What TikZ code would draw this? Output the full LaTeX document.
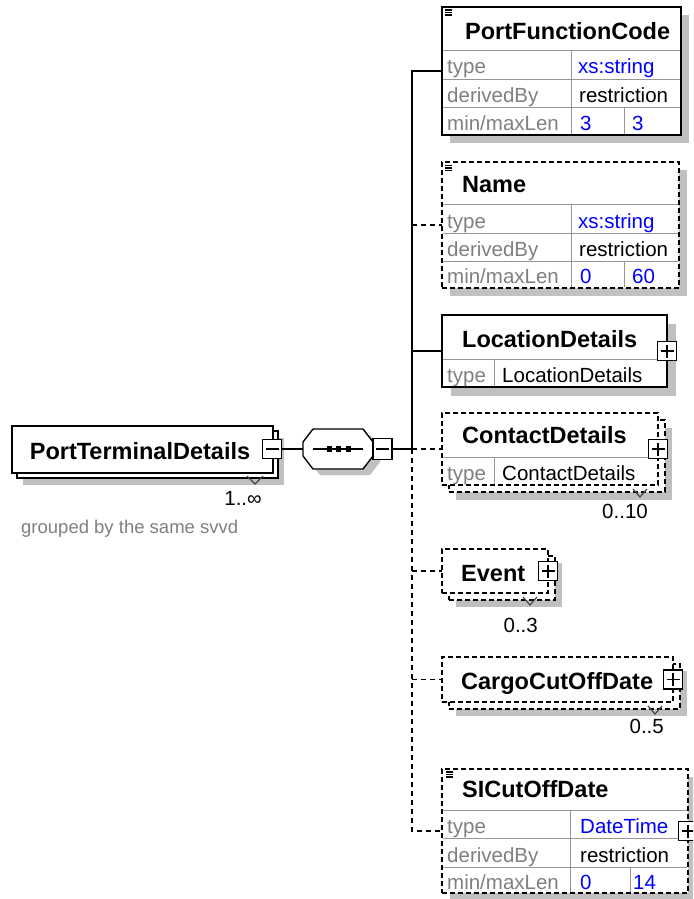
\documentclass[tikz,border=0pt]{standalone}
\usepackage{fontspec}
\setmainfont{Liberation Sans}
\usetikzlibrary{calc}
\definecolor{gtxt}{RGB}{128,128,128}
\definecolor{gline}{RGB}{150,150,150}
\definecolor{shad}{RGB}{192,192,192}
\definecolor{btxt}{RGB}{0,0,255}
\definecolor{notch}{RGB}{70,70,70}
\begin{document}
\begin{tikzpicture}[x=1pt,y=-1pt,
  ebox/.style={draw=black, line width=1.4pt, fill=white, inner sep=0, outer sep=0, anchor=north west},
  obox/.style={ebox, dash pattern=on 5pt off 3pt},
  sbox/.style={fill=shad, draw=none, inner sep=0, outer sep=0, anchor=north west},
  gridline/.style={draw=gline, line width=1pt},
  conn/.style={line width=1.4pt},
  oconn/.style={conn, dash pattern=on 5pt off 4pt},
  tbox/.style={draw=black, line width=1.2pt, fill=white, minimum width=19pt, minimum height=19pt, inner sep=0, outer sep=0},
  plusbox/.style={tbox, path picture={\draw[line width=1.3pt] ([xshift=-6.5pt]path picture bounding box.center) -- ([xshift=6.5pt]path picture bounding box.center) ([yshift=-6.5pt]path picture bounding box.center) -- ([yshift=6.5pt]path picture bounding box.center);}},
  minusbox/.style={tbox, path picture={\draw[line width=1.3pt] ([xshift=-6.5pt]path picture bounding box.center) -- ([xshift=6.5pt]path picture bounding box.center);}},
  ttl/.style={font=\fontsize{23.5}{26}\selectfont\bfseries, anchor=base west, inner sep=0},
  txt/.style={font=\fontsize{20.5}{24}\selectfont, anchor=base west, inner sep=0},
  gt/.style={txt, text=gtxt},
  bt/.style={txt, text=btxt},
  card/.style={txt, anchor=base east},
  notchline/.style={draw=notch, line width=1.2pt},
  iconline/.style={line width=1.2pt}
]
\useasboundingbox (0,0) rectangle (693,899);
\clip (0,0) rectangle (693,899);
\fill[white] (0,0) rectangle (693,899);

% ---------- PortTerminalDetails ----------
\node[sbox, minimum width=261pt, minimum height=47pt] (ptdS) at (23,438) {};
\node[ebox, minimum width=261pt, minimum height=47pt] (ptdB) at (17,431) {};
\node[ebox, minimum width=261pt, minimum height=47pt] (ptd) at (12,426) {};
\node[ttl, anchor=base] (ptdN) at (140,459) {PortTerminalDetails};
\node[minusbox] (ptdT) at (272,449) {};
\draw[notchline] (247,476) -- (255,484) -- (263,476);
\node[card] (ptdC) at (262,505) {1..∞};
\node[gt, font=\fontsize{18.5}{22}\selectfont] (ptdA) at (21,533) {grouped by the same svvd};

% ---------- sequence compositor ----------
\fill[shad, shift={(7,6)}] (303,442) -- (313,429) -- (363,429) -- (373,442) -- (373,456) -- (363,469) -- (313,469) -- (303,456) -- cycle;
\draw[line width=1.4pt, fill=white] (303,442) -- (313,429) -- (363,429) -- (373,442) -- (373,456) -- (363,469) -- (313,469) -- (303,456) -- cycle;
\node[inner sep=0, outer sep=0, minimum width=70pt, minimum height=40pt] (seq) at (338,449) {};
\draw[line width=1.3pt] (313,449) -- (363,449);
\fill (326.8,446.2) rectangle +(5.6,5.6);
\fill (335.8,446.2) rectangle +(5.6,5.6);
\fill (345.8,446.2) rectangle +(5.6,5.6);
\node[minusbox, minimum height=21pt] (seqT) at (382.5,449) {};

% ---------- PortFunctionCode ----------
\node[sbox, minimum width=239pt, minimum height=128pt] (pfcS) at (450,15) {};
\node[ebox, minimum width=239pt, minimum height=128pt] (pfc) at (442,7) {};
\draw[gridline] (442.7,51) -- (680.3,51) (442.7,79) -- (680.3,79) (442.7,107) -- (680.3,107)
  (571,51) -- (571,134.3) (624,107) -- (624,134.3);
\draw[iconline] (444.5,10) -- (451.5,10) (444.5,12.5) -- (451.5,12.5) (444.5,15) -- (451.5,15);
\node[ttl] (pfcN) at (465,40) {PortFunctionCode};
\node[gt] (pfc1) at (447,74) {type};
\node[bt] (pfc2) at (578,74) {xs:string};
\node[gt] (pfc3) at (447,102) {derivedBy};
\node[txt] (pfc4) at (579,102) {restriction};
\node[gt] (pfc5) at (447,130) {min/maxLen};
\node[bt] (pfc6) at (580,130) {3};
\node[bt] (pfc7) at (632,130) {3};

% ---------- Name ----------
\node[sbox, minimum width=237pt, minimum height=126pt] (namS) at (450,170) {};
\node[obox, minimum width=237pt, minimum height=126pt] (nam) at (442,162) {};
\draw[gridline] (442.7,204) -- (678.3,204) (442.7,233) -- (678.3,233) (442.7,261) -- (678.3,261)
  (571,204) -- (571,287.3) (624,261) -- (624,287.3);
\draw[iconline] (445,165.5) -- (452,165.5) (445,168) -- (452,168) (445,170.5) -- (452,170.5);
\node[ttl] (namN) at (462,192) {Name};
\node[gt] (nam1) at (447,228) {type};
\node[bt] (nam2) at (578,228) {xs:string};
\node[gt] (nam3) at (447,256) {derivedBy};
\node[txt] (nam4) at (579,256) {restriction};
\node[gt] (nam5) at (447,283) {min/maxLen};
\node[bt] (nam6) at (580,283) {0};
\node[bt] (nam7) at (632,283) {60};

% ---------- LocationDetails ----------
\node[sbox, minimum width=225pt, minimum height=72pt] (locS) at (451,324) {};
\node[ebox, minimum width=225pt, minimum height=72pt] (loc) at (442,315) {};
\draw[gridline] (442.7,359) -- (666.3,359) (494,359) -- (494,386.3);
\node[ttl] (locN) at (462,347) {LocationDetails};
\node[gt] (loc1) at (447,382) {type};
\node[txt] (loc2) at (502,382) {LocationDetails};
\node[plusbox] (locT) at (667,351) {};

% ---------- ContactDetails ----------
\node[sbox, minimum width=216pt, minimum height=72pt] (conS) at (456,428) {};
\node[obox, minimum width=216pt, minimum height=72pt] (conB) at (449,420) {};
\node[obox, minimum width=216pt, minimum height=72pt] (con) at (442,413) {};
\draw[gridline] (442.7,457) -- (657.3,457) (494,457) -- (494,484.3);
\node[ttl] (conN) at (462,443) {ContactDetails};
\node[gt] (con1) at (447,480) {type};
\node[txt] (con2) at (502,480) {ContactDetails};
\node[plusbox] (conT) at (658,449) {};
\draw[notchline] (633,489) -- (640,497) -- (647,489);
\node[card] (conC) at (648,518) {0..10};

% ---------- Event ----------
\node[sbox, minimum width=106pt, minimum height=44pt] (evtS) at (456,563) {};
\node[obox, minimum width=106pt, minimum height=44pt] (evtB) at (449,556) {};
\node[obox, minimum width=106pt, minimum height=44pt] (evt) at (442,549) {};
\node[ttl] (evtN) at (461,581) {Event};
\node[plusbox] (evtT) at (548,571) {};
\draw[notchline] (523,597) -- (530,605) -- (537,597);
\node[card] (evtC) at (538,632) {0..3};

% ---------- CargoCutOffDate ----------
\node[sbox, minimum width=231pt, minimum height=45pt] (cgoS) at (456,671) {};
\node[obox, minimum width=231pt, minimum height=45pt] (cgoB) at (449,664) {};
\node[obox, minimum width=231pt, minimum height=45pt] (cgo) at (442,657) {};
\node[ttl] (cgoN) at (461,689) {CargoCutOffDate};
\node[plusbox] (cgoT) at (673,679.5) {};
\draw[notchline] (648,706) -- (655,714) -- (662,706);
\node[card] (cgoC) at (664,733) {0..5};

% ---------- SICutOffDate ----------
\node[sbox, minimum width=246pt, minimum height=124pt] (sicS) at (450,777) {};
\node[obox, minimum width=246pt, minimum height=124pt] (sic) at (442,769) {};
\draw[gridline] (442.7,810) -- (687.3,810) (442.7,838) -- (687.3,838) (442.7,867) -- (687.3,867)
  (570,810) -- (570,892.3) (630,867) -- (630,892.3);
\draw[iconline] (446,772) -- (453,772) (446,774.5) -- (453,774.5) (446,777) -- (453,777);
\node[ttl] (sicN) at (462,797) {SICutOffDate};
\node[gt] (sic1) at (447,833) {type};
\node[bt] (sic2) at (580,833) {DateTime};
\node[gt] (sic3) at (447,862) {derivedBy};
\node[txt] (sic4) at (580,862) {restriction};
\node[gt] (sic5) at (447,889) {min/maxLen};
\node[bt] (sic6) at (580,889) {0};
\node[bt] (sic7) at (633,889) {14};
\node[plusbox] (sicT) at (688,831) {};

% ---------- connectors ----------
\coordinate (tTop) at (412,71);
\coordinate (j) at (412,449);
\coordinate (tBot) at (412,831);
\draw[conn] (ptdT.east) -- (seq.west);
\draw[conn] (seqT.east) -- (j);
\draw[conn] (pfc.west) -- (tTop) -- (j);
\draw[oconn] (j) -- (tBot) -- (sic.west);
\draw[oconn] (tTop |- nam.west) -- (nam.west);
\draw[conn] (tTop |- loc.west) -- (loc.west);
\draw[oconn] (j) -- (con.west);
\draw[oconn] (tTop |- evt.west) -- (evt.west);
\draw[oconn] (tTop |- cgo.west) -- (cgo.west);
\end{tikzpicture}
\end{document}
